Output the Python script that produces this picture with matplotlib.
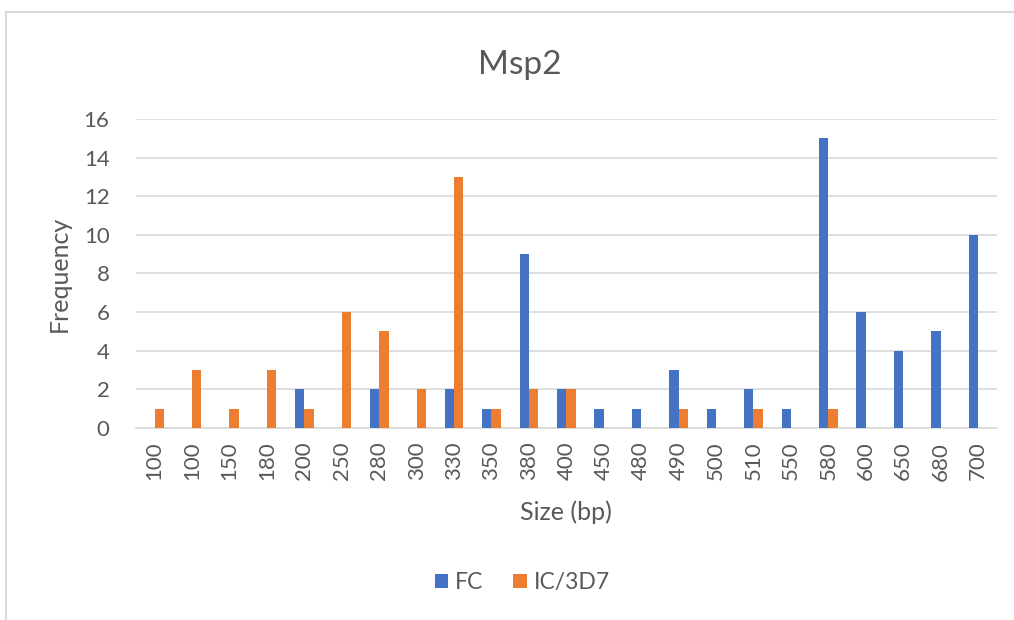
import numpy as np
import matplotlib
matplotlib.use("Agg")
import matplotlib.pyplot as plt
from matplotlib.patches import Rectangle

plt.rcParams['font.family'] = ['Lato', 'DejaVu Sans']

# data
sizes = ["100", "100", "150", "180", "200", "250", "280", "300", "330", "350", "380", "400",
         "450", "480", "490", "500", "510", "550", "580", "600", "650", "680", "700"]
fc = [0, 0, 0, 0, 2, 0, 2, 0, 2, 1, 9, 2, 1, 1, 3, 1, 2, 1, 15, 6, 4, 5, 10]
ic_3d7 = [1, 3, 1, 3, 1, 6, 5, 2, 13, 1, 2, 2, 0, 0, 1, 0, 1, 0, 1, 0, 0, 0, 0]

BLUE = "#4472C4"
ORANGE = "#ED7D31"
TXT = "#595959"

fig = plt.figure(figsize=(10.14, 6.2), dpi=100)
ax = fig.add_axes([0.134, 0.31, 0.849, 0.498])

x = np.arange(len(sizes))
w = 0.25
ax.bar(x - w / 2, fc, width=w, color=BLUE, label="FC", zorder=3)
ax.bar(x + w / 2, ic_3d7, width=w, color=ORANGE, label="IC/3D7", zorder=3)

ax.set_xlim(-0.5, len(sizes) - 0.5)
ax.set_ylim(0, 16)
ax.set_yticks(range(0, 17, 2))
ax.set_xticks(x)
ax.set_xticklabels(sizes, rotation=90)
ax.grid(axis="y", color="#D9D9D9", linewidth=1.2, zorder=0)
for s in ["top", "right", "left"]:
    ax.spines[s].set_visible(False)
ax.spines["bottom"].set_color("#D9D9D9")
ax.spines["bottom"].set_linewidth(1.2)
ax.tick_params(axis="both", length=0, labelsize=16, colors=TXT)
ax.tick_params(axis="y", pad=19)
ax.tick_params(axis="x", pad=10)

ax.set_xlabel("Size (bp)", fontsize=18, color=TXT, labelpad=14)
ax.set_ylabel("Frequency", fontsize=18, color=TXT, labelpad=9)
fig.text(0.513, 0.895, "Msp2", ha="center", va="center", fontsize=24, color=TXT)

handles, labels = ax.get_legend_handles_labels()
fig.legend(handles, labels, loc="center", bbox_to_anchor=(0.515, 0.06), ncol=2,
           frameon=False, fontsize=16.5, labelcolor=TXT, handlelength=0.6,
           handleheight=0.6, handletextpad=0.3, columnspacing=1.3)

# outer frame of the chart area
fig.patches.append(Rectangle((0.006, -0.01), 1.2, 0.99, transform=fig.transFigure,
                             fill=False, edgecolor="#D9D9D9", linewidth=1.5))

fig.savefig("out.png", dpi=100)
